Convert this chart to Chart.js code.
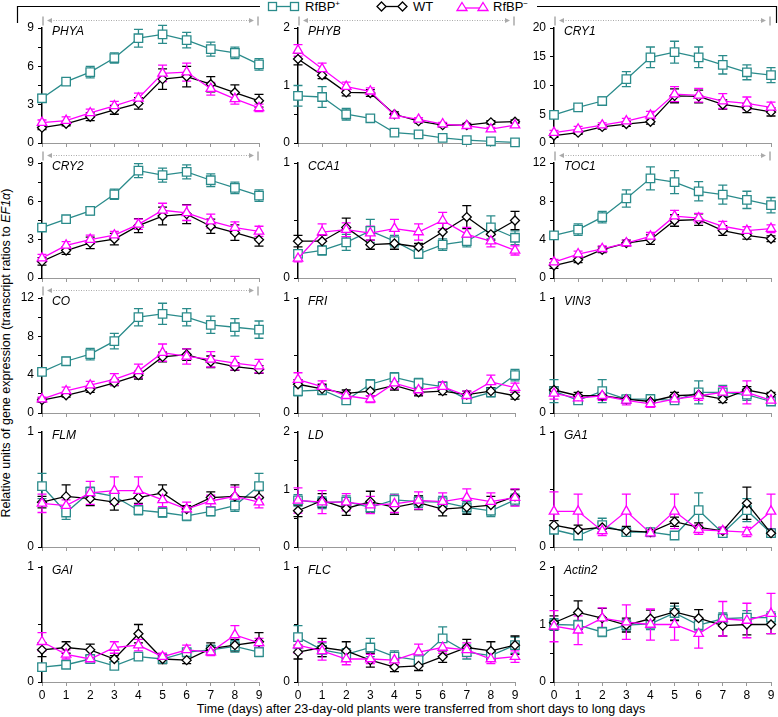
<!DOCTYPE html>
<html>
<head>
<meta charset="utf-8">
<script src="https://cdn.jsdelivr.net/npm/chart.js@4.4.0/dist/chart.umd.min.js"></script>
<style>
  body { margin: 0; background: #fff; font-family: "Liberation Sans", Arial, sans-serif; }
  #page { position: relative; width: 778px; height: 717px; overflow: hidden; }
  canvas { position: absolute; }
  .abs { position: absolute; white-space: nowrap; color: #000; }
  #ytitle { font-size: 12.5px; left: 6px; top: 353px; transform: translate(-50%, -50%) rotate(-90deg); }
  #xtitle { font-size: 12.5px; left: 421px; top: 709px; transform: translate(-50%, -50%); }
  .leg { font-size: 13px; top: -1px; }
  .leg sup { font-size: 8px; }
</style>
</head>
<body>
<div id="page">
  <svg class="abs" style="left:0;top:0" width="778" height="30">
    <!-- bracket -->
    <polyline points="17.5,23 17.5,6.5 260,6.5" fill="none" stroke="#000" stroke-width="1.2"/>
    <polyline points="537,6.5 776.5,6.5 776.5,23" fill="none" stroke="#000" stroke-width="1.2"/>
    <!-- legend icons -->
    <line x1="272" y1="6.5" x2="295" y2="6.5" stroke="#2a8b8b" stroke-width="1.3"/>
    <rect x="268.5" y="2.5" width="8" height="8" fill="#fff" stroke="#2a8b8b" stroke-width="1.3"/>
    <rect x="290.5" y="2.5" width="8" height="8" fill="#fff" stroke="#2a8b8b" stroke-width="1.3"/>
    <line x1="381" y1="6.5" x2="403" y2="6.5" stroke="#000" stroke-width="1.3"/>
    <polygon points="381.5,2 386,6.5 381.5,11 377,6.5" fill="#fff" stroke="#000" stroke-width="1.3"/>
    <polygon points="402.5,2 407,6.5 402.5,11 398,6.5" fill="#fff" stroke="#000" stroke-width="1.3"/>
    <line x1="462" y1="8" x2="483" y2="8" stroke="#f0f" stroke-width="1.3"/>
    <polygon points="462,2.5 467,10.5 457,10.5" fill="#fff" stroke="#f0f" stroke-width="1.3"/>
    <polygon points="483,2.5 488,10.5 478,10.5" fill="#fff" stroke="#f0f" stroke-width="1.3"/>
  </svg>
  <div class="abs leg" style="left:305px">RfBP<sup>+</sup></div>
  <div class="abs leg" style="left:413px">WT</div>
  <div class="abs leg" style="left:493px">RfBP<sup>−</sup></div>
  <div class="abs" id="ytitle">Relative units of gene expression (transcript ratios to <i>EF1α</i>)</div>
  <div class="abs" id="xtitle">Time (days) after 23-day-old plants were transferred from short days to long days</div>
</div>
<script>
// -------------------------------
// DATA
// -------------------------------
const days = ["0", "1", "2", "3", "4", "5", "6", "7", "8", "9"];

// PHYA
const PHYA_plus = [3.5, 4.8, 5.55, 6.65, 8.2, 8.5, 8.05, 7.35, 7.05, 6.15];
const PHYA_plusErr = [0.3, 0.25, 0.45, 0.4, 0.7, 0.7, 0.6, 0.55, 0.45, 0.45];
const PHYA_wt = [1.2, 1.5, 2.05, 2.6, 3.1, 5.0, 5.2, 4.6, 3.95, 3.3];
const PHYA_wtErr = [0.15, 0.15, 0.3, 0.35, 0.45, 0.8, 0.8, 0.6, 0.6, 0.5];
const PHYA_minus = [1.6, 1.75, 2.35, 2.9, 3.5, 5.45, 5.55, 4.25, 3.45, 2.75];
const PHYA_minusErr = [0.2, 0.3, 0.3, 0.35, 0.4, 0.65, 0.7, 0.5, 0.4, 0.3];

// PHYB
const PHYB_plus = [0.82, 0.8, 0.5, 0.43, 0.18, 0.15, 0.09, 0.05, 0.03, 0.01];
const PHYB_plusErr = [0.18, 0.18, 0.1, 0.05, 0.03, 0.02, 0.02, 0.01, 0.01, 0.01];
const PHYB_wt = [1.46, 1.18, 0.88, 0.87, 0.5, 0.38, 0.31, 0.31, 0.36, 0.37];
const PHYB_wtErr = [0.1, 0.06, 0.06, 0.06, 0.04, 0.03, 0.03, 0.03, 0.03, 0.03];
const PHYB_minus = [1.61, 1.29, 0.98, 0.9, 0.48, 0.41, 0.33, 0.3, 0.24, 0.31];
const PHYB_minusErr = [0.1, 0.1, 0.08, 0.06, 0.04, 0.03, 0.03, 0.03, 0.03, 0.03];

// CRY1
const CRY1_plus = [4.9, 6.2, 7.3, 11.1, 14.9, 15.8, 14.9, 13.6, 12.3, 11.8];
const CRY1_plusErr = [0.3, 0.3, 0.7, 1.3, 1.8, 1.9, 1.8, 1.6, 1.3, 1.3];
const CRY1_wt = [1.3, 1.8, 2.8, 3.3, 3.7, 8.2, 8.1, 6.7, 6.1, 5.4];
const CRY1_wtErr = [0.3, 0.3, 0.4, 0.4, 0.4, 1.2, 1.1, 0.8, 0.8, 0.7];
const CRY1_minus = [1.8, 2.4, 3.1, 3.8, 4.8, 8.5, 8.3, 7.3, 6.9, 6.2];
const CRY1_minusErr = [0.4, 0.5, 0.4, 0.5, 0.7, 1.3, 1.2, 1.3, 1.1, 0.9];

// CRY2
const CRY2_plus = [3.95, 4.6, 5.25, 6.55, 8.4, 8.05, 8.3, 7.65, 7.05, 6.45];
const CRY2_plusErr = [0.2, 0.2, 0.3, 0.4, 0.55, 0.55, 0.55, 0.5, 0.45, 0.45];
const CRY2_wt = [1.3, 2.15, 2.75, 3.05, 4.1, 4.85, 5.0, 4.05, 3.55, 3.0];
const CRY2_wtErr = [0.3, 0.3, 0.45, 0.45, 0.55, 0.7, 0.75, 0.55, 0.6, 0.5];
const CRY2_minus = [1.55, 2.55, 3.0, 3.35, 4.2, 5.3, 5.1, 4.45, 3.95, 3.65];
const CRY2_minusErr = [0.3, 0.3, 0.35, 0.3, 0.4, 0.55, 0.6, 0.55, 0.45, 0.4];

// CCA1
const CCA1_plus = [0.21, 0.24, 0.31, 0.41, 0.32, 0.21, 0.29, 0.32, 0.44, 0.35];
const CCA1_plusErr = [0.03, 0.04, 0.07, 0.1, 0.05, 0.04, 0.05, 0.05, 0.1, 0.06];
const CCA1_wt = [0.32, 0.32, 0.44, 0.29, 0.3, 0.27, 0.4, 0.53, 0.38, 0.5];
const CCA1_wtErr = [0.05, 0.05, 0.08, 0.04, 0.05, 0.03, 0.08, 0.1, 0.05, 0.08];
const CCA1_minus = [0.17, 0.4, 0.42, 0.39, 0.43, 0.4, 0.5, 0.38, 0.32, 0.24];
const CCA1_minusErr = [0.03, 0.07, 0.06, 0.06, 0.08, 0.07, 0.07, 0.06, 0.05, 0.04];

// TOC1
const TOC1_plus = [4.45, 5.05, 6.35, 8.3, 10.4, 10.0, 9.05, 8.7, 8.15, 7.6];
const TOC1_plusErr = [0.3, 0.6, 0.6, 0.9, 1.2, 1.2, 1.0, 1.0, 0.9, 0.8];
const TOC1_wt = [1.3, 1.9, 2.95, 3.65, 4.0, 6.0, 6.1, 4.95, 4.45, 4.1];
const TOC1_wtErr = [0.3, 0.3, 0.3, 0.3, 0.5, 0.6, 0.6, 0.5, 0.4, 0.3];
const TOC1_minus = [1.65, 2.5, 3.05, 3.65, 4.35, 6.45, 6.25, 5.4, 4.95, 5.15];
const TOC1_minusErr = [0.3, 0.3, 0.3, 0.3, 0.4, 0.6, 0.5, 0.5, 0.4, 0.4];

// CO
const CO_plus = [4.3, 5.4, 6.15, 7.5, 10.0, 10.35, 10.0, 9.2, 8.95, 8.7];
const CO_plusErr = [0.3, 0.4, 0.6, 0.8, 0.9, 1.1, 0.9, 0.9, 0.9, 0.9];
const CO_wt = [1.35, 1.85, 2.45, 3.15, 3.95, 5.85, 6.1, 5.35, 4.85, 4.55];
const CO_wtErr = [0.2, 0.2, 0.3, 0.3, 0.4, 0.5, 0.6, 0.6, 0.4, 0.4];
const CO_minus = [1.45, 2.3, 2.9, 3.5, 4.4, 6.3, 5.9, 5.6, 5.2, 4.9];
const CO_minusErr = [0.2, 0.4, 0.4, 0.6, 0.7, 0.9, 0.8, 0.8, 0.7, 0.7];

// FRI
const FRI_plus = [0.19, 0.2, 0.11, 0.25, 0.31, 0.26, 0.23, 0.12, 0.18, 0.33];
const FRI_plusErr = [0.04, 0.04, 0.03, 0.04, 0.04, 0.04, 0.04, 0.03, 0.04, 0.05];
const FRI_wt = [0.25, 0.21, 0.17, 0.19, 0.24, 0.18, 0.19, 0.16, 0.19, 0.15];
const FRI_wtErr = [0.04, 0.04, 0.03, 0.04, 0.04, 0.03, 0.03, 0.03, 0.03, 0.03];
const FRI_minus = [0.29, 0.23, 0.15, 0.12, 0.26, 0.2, 0.23, 0.15, 0.27, 0.22];
const FRI_minusErr = [0.06, 0.05, 0.03, 0.03, 0.05, 0.04, 0.04, 0.04, 0.06, 0.04];

// VIN3
const VIN3_plus = [0.19, 0.11, 0.19, 0.12, 0.12, 0.11, 0.18, 0.18, 0.16, 0.1];
const VIN3_plusErr = [0.1, 0.03, 0.1, 0.03, 0.04, 0.03, 0.1, 0.06, 0.05, 0.03];
const VIN3_wt = [0.2, 0.15, 0.15, 0.12, 0.1, 0.15, 0.16, 0.12, 0.2, 0.16];
const VIN3_wtErr = [0.03, 0.03, 0.03, 0.03, 0.03, 0.03, 0.03, 0.03, 0.03, 0.02];
const VIN3_minus = [0.17, 0.13, 0.15, 0.11, 0.08, 0.12, 0.15, 0.18, 0.18, 0.11];
const VIN3_minusErr = [0.05, 0.03, 0.04, 0.04, 0.03, 0.04, 0.04, 0.05, 0.1, 0.03];

// FLM
const FLM_plus = [0.53, 0.3, 0.48, 0.44, 0.32, 0.3, 0.27, 0.31, 0.36, 0.53];
const FLM_plusErr = [0.11, 0.06, 0.04, 0.05, 0.04, 0.04, 0.04, 0.04, 0.05, 0.11];
const FLM_wt = [0.39, 0.44, 0.42, 0.39, 0.43, 0.47, 0.33, 0.43, 0.44, 0.43];
const FLM_wtErr = [0.05, 0.1, 0.06, 0.07, 0.05, 0.07, 0.03, 0.05, 0.1, 0.06];
const FLM_minus = [0.38, 0.36, 0.47, 0.49, 0.49, 0.41, 0.33, 0.4, 0.44, 0.39];
const FLM_minusErr = [0.08, 0.05, 0.1, 0.12, 0.12, 0.06, 0.06, 0.05, 0.08, 0.05];

// LD
const LD_plus = [0.81, 0.77, 0.79, 0.69, 0.82, 0.79, 0.78, 0.69, 0.63, 0.82];
const LD_plusErr = [0.1, 0.1, 0.1, 0.1, 0.1, 0.1, 0.1, 0.1, 0.1, 0.1];
const LD_wt = [0.63, 0.81, 0.67, 0.79, 0.69, 0.77, 0.66, 0.69, 0.73, 0.88];
const LD_wtErr = [0.1, 0.12, 0.12, 0.18, 0.12, 0.12, 0.12, 0.12, 0.15, 0.12];
const LD_minus = [0.81, 0.78, 0.78, 0.73, 0.75, 0.81, 0.79, 0.86, 0.79, 0.86];
const LD_minusErr = [0.22, 0.2, 0.15, 0.15, 0.15, 0.15, 0.15, 0.15, 0.15, 0.15];

// GA1
const GA1_plus = [0.15, 0.1, 0.19, 0.13, 0.13, 0.1, 0.32, 0.12, 0.32, 0.12];
const GA1_plusErr = [0.03, 0.03, 0.06, 0.03, 0.03, 0.03, 0.15, 0.03, 0.1, 0.03];
const GA1_wt = [0.19, 0.15, 0.17, 0.14, 0.13, 0.22, 0.17, 0.14, 0.38, 0.12];
const GA1_wtErr = [0.04, 0.04, 0.04, 0.04, 0.03, 0.04, 0.04, 0.03, 0.14, 0.03];
const GA1_minus = [0.31, 0.31, 0.14, 0.31, 0.12, 0.31, 0.15, 0.14, 0.13, 0.31];
const GA1_minusErr = [0.17, 0.15, 0.04, 0.15, 0.03, 0.15, 0.04, 0.03, 0.04, 0.15];

// GAI
const GAI_plus = [0.13, 0.15, 0.2, 0.14, 0.22, 0.2, 0.26, 0.28, 0.31, 0.26];
const GAI_plusErr = [0.03, 0.03, 0.03, 0.03, 0.03, 0.03, 0.03, 0.04, 0.05, 0.04];
const GAI_wt = [0.28, 0.3, 0.28, 0.2, 0.42, 0.2, 0.19, 0.29, 0.32, 0.35];
const GAI_wtErr = [0.06, 0.05, 0.05, 0.03, 0.08, 0.04, 0.03, 0.05, 0.05, 0.08];
const GAI_minus = [0.35, 0.24, 0.2, 0.3, 0.32, 0.22, 0.28, 0.26, 0.41, 0.34];
const GAI_minusErr = [0.08, 0.04, 0.03, 0.05, 0.05, 0.03, 0.04, 0.03, 0.08, 0.04];

// FLC
const FLC_plus = [0.39, 0.28, 0.24, 0.3, 0.22, 0.19, 0.38, 0.26, 0.23, 0.32];
const FLC_plusErr = [0.1, 0.06, 0.05, 0.08, 0.05, 0.05, 0.1, 0.06, 0.04, 0.07];
const FLC_wt = [0.26, 0.3, 0.27, 0.19, 0.13, 0.14, 0.22, 0.3, 0.27, 0.32];
const FLC_wtErr = [0.06, 0.08, 0.08, 0.06, 0.04, 0.04, 0.05, 0.07, 0.08, 0.08];
const FLC_minus = [0.32, 0.27, 0.2, 0.2, 0.19, 0.26, 0.3, 0.28, 0.2, 0.22];
const FLC_minusErr = [0.07, 0.08, 0.05, 0.04, 0.04, 0.07, 0.05, 0.06, 0.04, 0.05];

// Actin2
const Actin2_plus = [1.0, 0.99, 0.87, 0.99, 1.01, 1.2, 0.99, 1.1, 1.12, 1.12];
const Actin2_plusErr = [0.1, 0.08, 0.08, 0.1, 0.1, 0.12, 0.1, 0.1, 0.12, 0.1];
const Actin2_wt = [1.03, 1.21, 1.11, 0.99, 1.1, 1.22, 1.11, 0.98, 1.0, 1.0];
const Actin2_wtErr = [0.12, 0.2, 0.17, 0.12, 0.15, 0.15, 0.15, 0.18, 0.18, 0.16];
const Actin2_minus = [0.97, 0.9, 1.11, 1.04, 1.0, 1.0, 0.84, 1.1, 1.07, 1.19];
const Actin2_minusErr = [0.27, 0.25, 0.18, 0.3, 0.27, 0.27, 0.25, 0.3, 0.3, 0.35];

// -------------------------------
// PANELS (axis ranges per gene)
// -------------------------------
const panels = [
  { gene: "PHYA", max: 9, major: 3, minor: 1.5, arrow: true, s: [PHYA_plus, PHYA_plusErr, PHYA_wt, PHYA_wtErr, PHYA_minus, PHYA_minusErr] },
  { gene: "PHYB", max: 2, major: 1, minor: 0.5, arrow: true, s: [PHYB_plus, PHYB_plusErr, PHYB_wt, PHYB_wtErr, PHYB_minus, PHYB_minusErr] },
  { gene: "CRY1", max: 20, major: 5, minor: 5, arrow: true, s: [CRY1_plus, CRY1_plusErr, CRY1_wt, CRY1_wtErr, CRY1_minus, CRY1_minusErr] },
  { gene: "CRY2", max: 9, major: 3, minor: 1.5, arrow: true, s: [CRY2_plus, CRY2_plusErr, CRY2_wt, CRY2_wtErr, CRY2_minus, CRY2_minusErr] },
  { gene: "CCA1", max: 1, major: 1, minor: 0.5, arrow: false, s: [CCA1_plus, CCA1_plusErr, CCA1_wt, CCA1_wtErr, CCA1_minus, CCA1_minusErr] },
  { gene: "TOC1", max: 12, major: 4, minor: 2, arrow: true, s: [TOC1_plus, TOC1_plusErr, TOC1_wt, TOC1_wtErr, TOC1_minus, TOC1_minusErr] },
  { gene: "CO", max: 12, major: 4, minor: 2, arrow: true, s: [CO_plus, CO_plusErr, CO_wt, CO_wtErr, CO_minus, CO_minusErr] },
  { gene: "FRI", max: 1, major: 1, minor: 0.5, arrow: false, s: [FRI_plus, FRI_plusErr, FRI_wt, FRI_wtErr, FRI_minus, FRI_minusErr] },
  { gene: "VIN3", max: 1, major: 1, minor: 0.5, arrow: false, s: [VIN3_plus, VIN3_plusErr, VIN3_wt, VIN3_wtErr, VIN3_minus, VIN3_minusErr] },
  { gene: "FLM", max: 1, major: 1, minor: 0.5, arrow: false, s: [FLM_plus, FLM_plusErr, FLM_wt, FLM_wtErr, FLM_minus, FLM_minusErr] },
  { gene: "LD", max: 2, major: 1, minor: 0.5, arrow: false, s: [LD_plus, LD_plusErr, LD_wt, LD_wtErr, LD_minus, LD_minusErr] },
  { gene: "GA1", max: 1, major: 1, minor: 0.5, arrow: false, s: [GA1_plus, GA1_plusErr, GA1_wt, GA1_wtErr, GA1_minus, GA1_minusErr] },
  { gene: "GAI", max: 1, major: 1, minor: 0.5, arrow: false, s: [GAI_plus, GAI_plusErr, GAI_wt, GAI_wtErr, GAI_minus, GAI_minusErr] },
  { gene: "FLC", max: 1, major: 1, minor: 0.5, arrow: false, s: [FLC_plus, FLC_plusErr, FLC_wt, FLC_wtErr, FLC_minus, FLC_minusErr] },
  { gene: "Actin2", max: 2, major: 1, minor: 0.5, arrow: false, s: [Actin2_plus, Actin2_plusErr, Actin2_wt, Actin2_wtErr, Actin2_minus, Actin2_minusErr] },
];

// -------------------------------
// LAYOUT
// -------------------------------
const colLeft = [42, 298, 554];
const rowTop = [28, 163, 298, 432, 567];
const plotW = 217, plotH = 115;
const padL = 42, padT = 14, padR = 8, padB = 30;

const TEAL = "#2a8b8b";
const MAGENTA = "#ff00ff";

// -------------------------------
// PLUGINS
// -------------------------------
const errorBars = {
  id: "errorBars",
  beforeDatasetsDraw(chart) {
    const ctx = chart.ctx;
    const yScale = chart.scales.y;
    chart.data.datasets.forEach((ds, i) => {
      const meta = chart.getDatasetMeta(i);
      ctx.save();
      ctx.strokeStyle = ds.borderColor;
      ctx.lineWidth = 1.3;
      meta.data.forEach((pt, j) => {
        const v = ds.data[j], e = ds.errors[j];
        const top = yScale.getPixelForValue(v + e);
        const bot = yScale.getPixelForValue(Math.max(0, v - e));
        ctx.beginPath();
        ctx.moveTo(pt.x, top); ctx.lineTo(pt.x, bot);
        ctx.moveTo(pt.x - 4.5, top); ctx.lineTo(pt.x + 4.5, top);
        ctx.moveTo(pt.x - 4.5, bot); ctx.lineTo(pt.x + 4.5, bot);
        ctx.stroke();
      });
      ctx.restore();
    });
  },
};

const panelDecor = {
  id: "panelDecor",
  afterDraw(chart, args, opts) {
    const ctx = chart.ctx;
    const area = chart.chartArea;
    ctx.save();
    ctx.fillStyle = "#000";
    ctx.font = 'italic 12px "Liberation Sans", Arial, sans-serif';
    ctx.textBaseline = "middle";
    ctx.fillText(opts.gene, area.left + 10, area.top + 4);

    if (opts.arrow) {
      const x0 = chart.scales.x.getPixelForValue(0) + 1;
      const x1 = chart.scales.x.getPixelForValue(9) - 1;
      const y = area.top - 7.5;
      ctx.strokeStyle = "#aaa";
      ctx.fillStyle = "#aaa";
      ctx.lineWidth = 1.5;
      ctx.beginPath();
      ctx.moveTo(x0, y - 4); ctx.lineTo(x0, y + 5);
      ctx.moveTo(x1, y - 4); ctx.lineTo(x1, y + 5);
      ctx.stroke();
      ctx.lineWidth = 1;
      ctx.setLineDash([1, 1.5]);
      ctx.beginPath();
      ctx.moveTo(x0 + 8, y); ctx.lineTo(x1 - 8, y);
      ctx.stroke();
      ctx.setLineDash([]);
      ctx.beginPath();
      ctx.moveTo(x0 + 4, y); ctx.lineTo(x0 + 9, y - 2.5); ctx.lineTo(x0 + 9, y + 2.5); ctx.closePath();
      ctx.moveTo(x1 - 4, y); ctx.lineTo(x1 - 9, y - 2.5); ctx.lineTo(x1 - 9, y + 2.5); ctx.closePath();
      ctx.fill();
    }
    ctx.restore();
  },
};

// -------------------------------
// CHARTS
// -------------------------------
function makeDataset(label, data, errors, color, style, radius, order) {
  return {
    label: label,
    data: data,
    errors: errors,
    borderColor: color,
    backgroundColor: "#fff",
    borderWidth: 1.3,
    pointStyle: style,
    pointRadius: radius,
    pointBorderWidth: 1.3,
    pointBackgroundColor: "#fff",
    pointBorderColor: color,
    tension: 0,
    clip: false,
    order: order,
  };
}

const page = document.getElementById("page");

panels.forEach((p, idx) => {
  const col = idx % 3, row = Math.floor(idx / 3);
  const canvas = document.createElement("canvas");
  canvas.width = padL + plotW + padR;
  canvas.height = padT + plotH + padB;
  canvas.style.left = (colLeft[col] - padL) + "px";
  canvas.style.top = (rowTop[row] - padT) + "px";
  page.appendChild(canvas);

  const isBottom = row === 4;

  new Chart(canvas, {
    type: "line",
    data: {
      labels: days,
      datasets: [
        makeDataset("RfBP+", p.s[0], p.s[1], TEAL, "rect", 6, 3),
        makeDataset("WT", p.s[2], p.s[3], "#000", "rectRot", 4.5, 2),
        makeDataset("RfBP-", p.s[4], p.s[5], MAGENTA, "triangle", 5.5, 1),
      ],
    },
    options: {
      responsive: false,
      animation: false,
      devicePixelRatio: 1,
      layout: { padding: { top: padT, right: padR, left: 0, bottom: 0 } },
      plugins: {
        legend: { display: false },
        tooltip: { enabled: false },
        panelDecor: { gene: p.gene, arrow: p.arrow },
      },
      scales: {
        x: {
          border: { color: "#999", width: 1 },
          grid: { drawOnChartArea: false, tickLength: 4, color: "#999" },
          ticks: {
            display: isBottom,
            autoSkip: false,
            maxRotation: 0,
            padding: 2,
            color: "#000",
            font: { family: '"Liberation Sans", Arial, sans-serif', size: 12 },
          },
          afterFit(scale) { scale.height = padB; },
        },
        y: {
          min: 0,
          max: p.max,
          border: { color: "#000", width: 1.5 },
          grid: { drawOnChartArea: false, tickLength: 4, color: "#000" },
          ticks: {
            stepSize: p.minor,
            padding: 4,
            color: "#000",
            font: { family: '"Liberation Sans", Arial, sans-serif', size: 12 },
            callback: (v) => {
              const r = v / p.major;
              return Math.abs(r - Math.round(r)) < 1e-6 ? String(v) : "";
            },
          },
          afterFit(scale) { scale.width = padL; },
        },
      },
    },
    plugins: [errorBars, panelDecor],
  });
});
</script>
</body>
</html>
